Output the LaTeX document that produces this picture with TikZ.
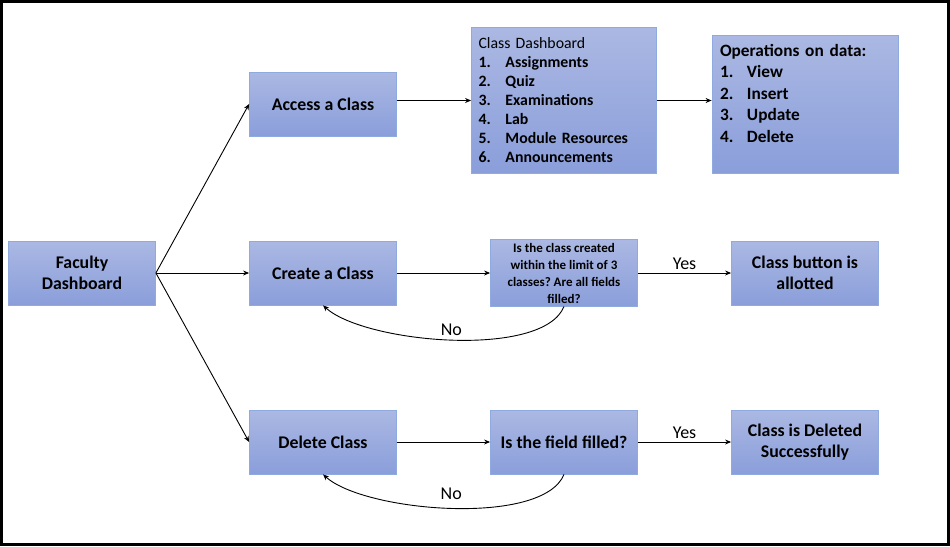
\documentclass[tikz,border=0pt]{standalone}
\usepackage{fontspec}
\setmainfont{Carlito}
\usetikzlibrary{positioning,arrows.meta}
\frenchspacing

\definecolor{boxtop}{RGB}{171,184,227}
\definecolor{boxbottom}{RGB}{138,158,218}
\definecolor{boxline}{RGB}{143,170,222}

\newcommand{\dashitem}[2]{\makebox[27pt][l]{#1}#2}

\tikzset{
  block/.style={draw=boxline, line width=0.8pt, top color=boxtop, bottom color=boxbottom,
    minimum width=147pt, minimum height=64pt, inner sep=3pt, align=center,
    font=\fontsize{17.8}{20.5}\selectfont\bfseries},
  noloop/.style={out=-112, in=-42, looseness=0.6}
}

\begin{document}
\begin{tikzpicture}[node distance=169pt and 241pt, on grid, auto, >={Stealth[length=6pt,width=5pt]}]
     \useasboundingbox (0,0) rectangle (950pt,-546pt);
     \draw[line width=3pt] (1.5pt,-1.5pt) rectangle (948.5pt,-544.5pt);

     \node[block] (faculty) at (82pt,-273pt) {Faculty\\Dashboard};
     \node[block] (create) [right=of faculty] {Create a Class};
     \node[block] (access) [above=of create] {Access a Class};
     \node[block] (delete) [below=of create] {Delete Class};
     \node[block, minimum width=185pt, minimum height=146pt, text width=171pt, inner sep=7pt,
           align=left, font=\fontsize{15.8}{19}\selectfont\bfseries, yshift=3.5pt]
           (dash) [right=of access]
           {{\mdseries Class Dashboard}\\
            \dashitem{1.}{Assignments}\\
            \dashitem{2.}{Quiz}\\
            \dashitem{3.}{Examinations}\\
            \dashitem{4.}{Lab}\\
            \dashitem{5.}{Module Resources}\\
            \dashitem{6.}{Announcements}};
     \node[block, minimum width=186pt, minimum height=138pt, text width=170pt, inner sep=8pt,
           align=left, font=\fontsize{17.3}{21.5}\selectfont\bfseries, yshift=-3.5pt]
           (ops) [right=of dash]
           {Operations on data:\\
            \dashitem{1.}{View}\\
            \dashitem{2.}{Insert}\\
            \dashitem{3.}{Update}\\
            \dashitem{4.}{Delete}\\ ~};
     \node[block, font=\fontsize{13}{17}\selectfont\bfseries] (check) [right=of create]
           {Is the class created\\within the limit of 3\\classes? Are all fields\\filled?};
     \node[block] (allot) [right=of check] {Class button is\\allotted};
     \node[block] (fieldchk) [right=of delete] {Is the field filled?};
     \node[block] (deleted) [right=of fieldchk] {Class is Deleted\\Successfully};

      \path[->, line width=0.9pt, font=\fontsize{18}{20}\selectfont]
      (faculty.east) edge (access.west)
                     edge (create.west)
                     edge (delete.west)
      (access.east |- dash.west) edge (dash.west)
      (dash.east) edge (dash.east -| ops.west)
      (create) edge (check)
      (check) edge node {Yes} (allot)
      (check.south) edge [noloop] node [above] {No} (create.south)
      (delete) edge (fieldchk)
      (fieldchk) edge node {Yes} (deleted)
      (fieldchk.south) edge [noloop] node [above, yshift=5pt] {No} (delete.south);
    \end{tikzpicture}
\end{document}
